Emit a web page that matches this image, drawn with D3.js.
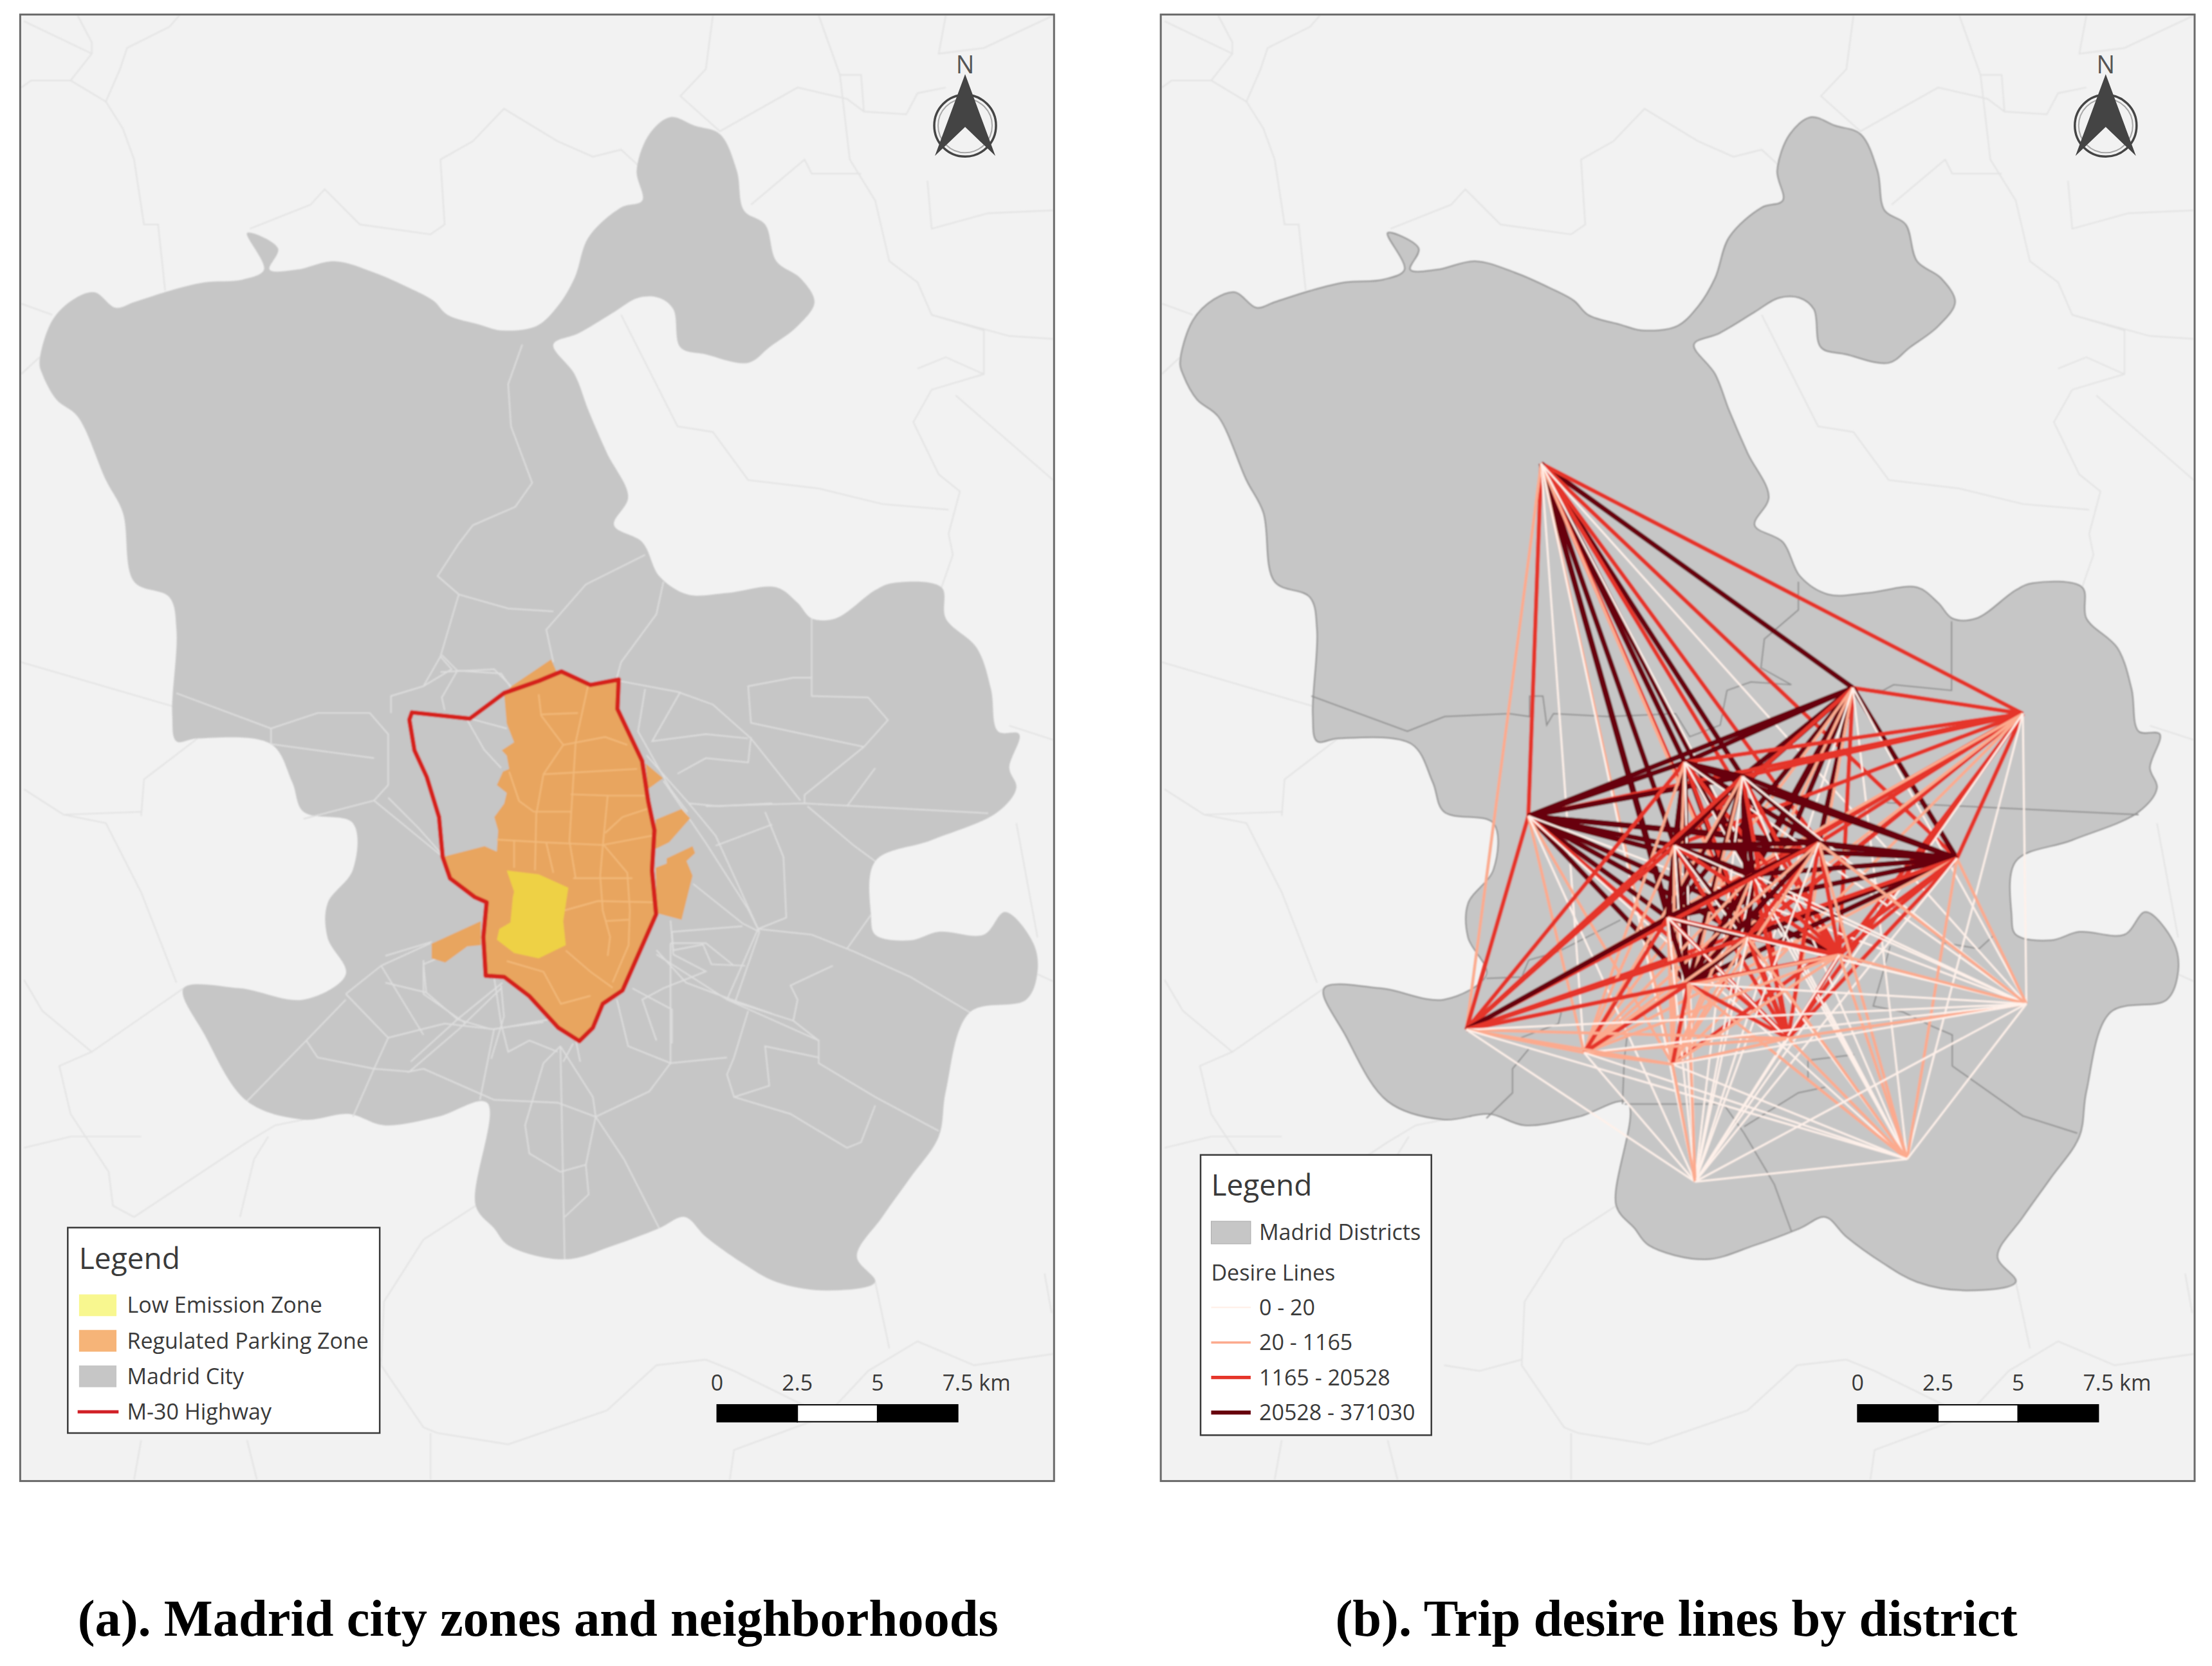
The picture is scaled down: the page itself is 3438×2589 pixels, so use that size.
<!DOCTYPE html>
<html>
<head>
<meta charset="utf-8">
<script src="https://cdn.jsdelivr.net/npm/d3@7"></script>
<style>
  body { margin: 0; background: #fff; }
  text { font-family: "Open Sans", sans-serif; fill: #3a3a3a; }
</style>
</head>
<body>
<svg id="chart"></svg>
<script>
var madridOutline = [[28,257],[37,227],[52,212],[67,207],[82,218],[95,214],[120,206],[145,200],[172,198],[187,191],[175,165],[197,176],[191,191],[210,191],[237,185],[265,193],[290,204],[307,213],[317,223],[340,230],[355,234],[380,231],[395,217],[407,197],[417,168],[440,147],[455,142],[451,121],[460,95],[475,83],[492,89],[510,95],[522,121],[527,149],[542,159],[550,185],[567,197],[577,214],[565,231],[545,246],[530,257],[500,251],[482,246],[477,219],[467,211],[452,211],[435,221],[410,236],[392,244],[407,265],[417,291],[430,321],[445,352],[435,372],[455,384],[467,408],[487,421],[515,420],[550,416],[565,427],[575,438],[592,438],[620,418],[632,413],[667,416],[670,438],[692,459],[702,488],[707,518],[722,520],[715,544],[720,558],[707,575],[660,595],[620,610],[617,648],[620,662],[645,666],[665,660],[697,662],[712,646],[732,668],[735,688],[727,708],[687,717],[670,773],[665,805],[645,834],[625,862],[607,890],[620,908],[585,914],[550,908],[525,894],[500,876],[485,862],[467,870],[435,882],[400,892],[360,882],[350,870],[337,854],[345,781],[310,791],[272,797],[247,789],[215,793],[175,780],[145,733],[130,700],[170,700],[215,708],[245,690],[232,664],[232,640],[250,616],[250,583],[215,575],[207,554],[192,527],[140,523],[125,525],[122,506],[125,446],[120,423],[95,412],[87,363],[75,340],[55,295],[40,283],[30,265]];

var m30Ring = [[291.8,504.6],[332.8,509],[357.2,490.8],[381.6,482.3],[397.7,475.6],[418.2,485.1],[438.3,481.3],[437.4,502.1],[454.9,539],[459.2,567.3],[463.6,588.1],[461.9,616.5],[464.8,647.6],[441,701.5],[427,711],[420,728],[410.4,737.4],[395.6,728],[374.7,705.3],[357.2,692],[344.1,691.1],[342.4,663.7],[344.7,639.1],[336.3,635.4],[318.8,622.1],[313.6,607],[311,578.7],[302.3,550.3],[293.6,531.4],[290,509.7]];

var parkingMain = [[362.4,486],[390.4,467.1],[394.2,475.6],[397.7,475.6],[418.2,485.1],[438.3,481.3],[437.4,502.1],[454.9,539],[459.2,567.3],[463.6,588.1],[461.9,616.5],[464.8,647.6],[441,701.5],[427,711],[420,728],[410.4,737.4],[395.6,728],[374.7,705.3],[357.2,692],[344.1,691.1],[342.4,663.7],[344.7,639.1],[336.3,635.4],[318.8,622.1],[313.6,607],[343.3,599.4],[352,603.2],[352.9,588.1],[350.2,578.7],[357.2,569.2],[359,561.6],[352,556],[356.3,546.5],[360.7,544.6],[359,535.2],[355.5,531.4],[364.2,525.7],[359,512.5],[357.2,491.7]];

var parkingLobes = [
  [[457.5,540.9],[469.7,551.2],[459.2,558.8]],
  [[464.5,580.5],[482.8,573],[488.9,579.6],[474,596.6],[464.5,601.3]],
  [[472.3,608],[490.6,599.4],[492.4,604.2],[486.3,609.8],[490.6,620.2],[482.8,651.4],[465.3,646.7],[464.5,614.6],[472.3,611.7]],
  [[305.8,668.4],[340.6,652.4],[340.6,669.4],[331,670.3],[315.4,681.7],[305.8,678.8]]
];

var emissionZone = [[359,616.5],[381.6,619.3],[402.6,628.7],[399,652.4],[400.8,669.4],[381.6,678.8],[364.2,675],[352,665.6],[353.7,658],[361.6,653.3],[363.3,635.4],[364.2,631.6]];

var neighbourhoodLines = [
  [[370,244],[360,272],[362,302],[377,342],[365,359],[335,372],[325,385],[310,408],[325,421],[360,431],[392,433]],
  [[457,393],[415,414],[387,446],[392,469]],
  [[470,412],[465,435],[440,469],[437,480]],
  [[575,438],[575,493],[615,494],[629,510],[612,529],[532,512],[530,486],[562,480],[575,480]],
  [[325,421],[312,465],[300,486],[277,493],[277,505]],
  [[125,491],[192,516],[225,505],[262,505],[275,520],[275,556]],
  [[192,516],[192,527],[265,537]],
  [[215,580],[265,567],[275,556]],
  [[300,486],[320,474],[312,465]],
  [[312,476],[350,474],[362,486]],
  [[437,482],[480,490],[505,499],[532,523],[567,567]],
  [[457,488],[452,518],[475,559],[487,575]],
  [[482,490],[462,525],[500,520],[530,523]],
  [[532,522],[530,540],[500,537],[480,548]],
  [[612,529],[570,563],[570,569]],
  [[620,544],[600,571]],
  [[500,571],[570,569],[700,576]],
  [[470,553],[500,597],[530,644],[537,658]],
  [[542,575],[555,607],[557,650],[537,658],[515,708]],
  [[572,571],[605,599],[620,610]],
  [[617,648],[600,672]],
  [[605,674],[645,692],[687,717]],
  [[537,658],[575,662],[605,674]],
  [[590,684],[560,698],[565,708],[562,723]],
  [[465,676],[515,708],[580,737],[580,753],[620,777],[665,801]],
  [[515,708],[562,723],[580,737]],
  [[530,716],[520,749],[515,761],[520,777],[545,769],[542,741],[580,749]],
  [[520,777],[560,789],[600,813],[610,809],[620,783]],
  [[475,753],[515,749]],
  [[437,708],[445,741],[475,753],[475,668]],
  [[475,668],[500,668],[520,684]],
  [[475,652],[477,676],[500,688],[470,700],[455,708],[465,737]],
  [[475,753],[460,773],[422,791],[395,781],[350,779],[300,757],[290,759],[325,729],[355,700]],
  [[422,791],[442,821],[467,870]],
  [[422,791],[415,825],[397,830],[375,817],[372,797],[385,753],[397,741]],
  [[397,741],[400,892]],
  [[415,825],[417,846],[400,862]],
  [[397,741],[420,777],[422,791]],
  [[245,708],[217,737],[175,780]],
  [[217,737],[225,749],[265,757],[290,759]],
  [[265,757],[250,791]],
  [[245,704],[275,735],[265,757]],
  [[275,735],[315,725],[350,729],[395,721]],
  [[270,684],[300,733]],
  [[300,680],[300,704],[330,725]],
  [[270,684],[305,668]],
  [[270,684],[245,704]],
  [[350,692],[355,725],[360,745],[375,737],[395,745]],
  [[350,729],[340,779]],
  [[265,567],[315,608]],
  [[458,535],[488,569],[507,592],[538,660]],
  [[488,569],[509,571],[547,569]],
  [[507,599],[547,584]],
  [[491,626],[526,654],[538,660]],
  [[476,660],[526,656]],
  [[476,660],[477,673],[498,669],[504,683],[528,684]],
  [[465,673],[486,696],[521,709],[547,718]],
  [[448,700],[476,715],[476,739]],
  [[521,709],[538,660]],
  [[275,565],[296,586],[313,605]],
  [[331,510],[343,531],[355,544]],
  [[333,509],[359,516]],
  [[313,464],[324,475],[355,477],[362,487]],
  [[324,475],[313,494],[315,503]],
  [[356,696],[324,722],[291,752]],
  [[273,677],[306,667]],
  [[300,683],[302,703],[324,722],[348,729],[385,724]],
  [[331,670],[300,683]],
  [[302,703],[273,696]],
  [[355,698],[357,720],[348,750]],
  [[406,739],[399,752]],
  [[408,737],[411,752]]
];

var parkingStreets = [
  [[416.5,486],[407.8,525.7],[403.4,595.7],[407.8,622]],
  [[381.6,491.7],[383.4,506.8],[399,527.6],[385,548.4],[379.9,576.8],[379,616.5]],
  [[383.4,506],[409.5,505]],
  [[399,527.6],[428.7,522],[444.4,527.6]],
  [[385,548.4],[451.4,544.6]],
  [[360.7,546.5],[367.7,567.3],[378.1,574.9],[404.3,574.9]],
  [[404.3,562.6],[430.5,563.5],[456.6,563.5]],
  [[430.5,563.5],[427,599.4],[425.2,620.2],[427,644.8],[432.2,663.7],[430.5,677]],
  [[352,594.7],[385,596.6],[427,598.5],[461.9,591.9]],
  [[428.7,590],[441,578.7],[458.4,573]],
  [[427,597.6],[444.4,618.3],[446.2,644.8],[445.3,669.4],[434,695.8]],
  [[406,622],[448,622]],
  [[400,644.8],[423.5,638.2],[463.6,639.1]],
  [[428.7,652.4],[445.3,651.4]],
  [[400.8,673.2],[418.3,688.3],[434,699.6]],
  [[359,680.7],[385,688.3],[397.3,711],[418.3,705.3]],
  [[364.2,595.7],[364.2,614.6]],
  [[386.9,596.6],[392,618.3]]
];

var backgroundLines = [
  [[17,15],[65,38],[50,57],[22,57],[15,62]],
  [[55,11],[65,30],[65,38]],
  [[127,11],[120,19],[90,34],[85,49],[75,72],[50,57]],
  [[75,72],[87,91],[95,113],[102,159],[112,159],[117,206]],
  [[177,162],[220,145],[230,134],[255,159],[305,166],[315,159],[312,113],[335,100],[357,77],[395,100],[420,111],[440,106],[452,117]],
  [[505,11],[500,49],[482,68],[510,93],[565,62],[600,70],[612,79],[642,81],[650,66],[670,62]],
  [[580,11],[595,53],[602,113],[620,142],[630,185],[650,200],[660,223],[697,234],[697,265],[660,276],[647,299],[665,336],[680,348],[672,378],[675,393],[667,416]],
  [[595,53],[610,53],[612,79]],
  [[670,11],[665,38],[697,34],[746,11]],
  [[657,128],[660,162],[700,151],[746,149]],
  [[532,145],[570,113],[575,123],[610,123]],
  [[440,223],[480,302],[505,306],[530,340],[580,346],[625,357],[672,361]],
  [[650,261],[670,253],[697,265]],
  [[677,280],[746,340]],
  [[660,223],[715,238],[746,240]],
  [[15,265],[28,253]],
  [[15,215],[37,223]],
  [[15,469],[125,501]],
  [[100,578],[102,552],[140,523]],
  [[17,559],[45,577],[75,583],[100,632],[125,696]],
  [[45,577],[100,575]],
  [[17,694],[30,716],[65,745],[42,755],[50,789],[77,830],[80,854],[95,862]],
  [[65,745],[130,700]],
  [[17,813],[50,805],[100,805]],
  [[95,862],[175,809],[195,797],[215,793]],
  [[190,805],[180,821],[170,862]],
  [[337,854],[300,878],[272,922],[270,967],[300,1011],[310,1015],[360,1023],[430,999],[465,967],[500,963],[520,971],[585,1003],[615,971],[650,950],[690,967],[746,959]],
  [[620,908],[630,955]],
  [[270,963],[240,971],[215,967]],
  [[305,1015],[305,1048]],
  [[100,1020],[95,1048]],
  [[175,1020],[182,1048]],
  [[585,1003],[520,1027],[517,1048]],
  [[740,902],[745,930]],
  [[720,583],[735,664]],
  [[735,690],[746,695]],
  [[715,514],[746,524]]
];

var districtLines = [
  [[121,493],[189,518],[215.4,507.5],[261,505.5],[275.6,507.5],[275.6,493],[285,493],[287.7,513.6],[292.5,505.5],[331,507.5],[379,505.5],[389,521.8],[410.6,513.6],[415.4,489],[432.3,483],[461,485],[439.5,473],[441.9,452.6],[466,432],[466,412]],
  [[574.5,440],[574.5,489],[533.5,485],[526,489],[504.6,487]],
  [[528.6,568.6],[574.5,570.6],[707,577]],
  [[663.6,802.6],[625,790.4],[575,755],[575,733],[561,727],[540,716.7],[519,712.6],[525,692],[531,670]],
  [[554,653.6],[570,668],[594,672],[605,662]],
  [[472.8,763.5],[472.8,751],[505.4,747]],
  [[341.4,782],[342.6,751],[345,731]],
  [[269.4,735],[296,725],[298,717]],
  [[275,743],[263.5,757],[263.5,774],[245,792]],
  [[340,651.6],[296,674],[275,680]],
  [[343,782],[413,782],[427.5,802.6],[442,827],[449,839],[461,872]],
  [[427.5,798],[466,774],[485,770]],
  [[245,693],[270,692],[275,680]]
];

var districtNames = ["Fuencarral","Hortaleza","Barajas","Moncloa","Tetuan","Chamartin","San Blas","Chamberi","Salamanca","Ciudad Lineal","Centro","Retiro","Moratalaz","Arganzuela","Puente de Vallecas","Vicalvaro","Latina","Carabanchel","Usera","Villa de Vallecas","Villaverde"];
var districtX = [283.8,504.6,625,274.7,385.5,426.5,578.3,378.3,433.7,480.5,373.5,430,495,388,458.8,627.5,230.8,314.2,376.8,543,392.8];
var districtY = [328.4,487.2,505.5,578,540,550,608,599,619.5,597,650,664,676.4,696.8,735.4,711,729.3,745.6,753.8,821,837];

// flow class of each pair, row i holds district i against all later districts
var desireClass = [
  "32233233232231010100",
  "2333333333231021100",
  "222222222222011100",
  "33333333332021100",
  "3333333232021100",
  "333333232021100",
  "33333232121210",
  "3333232021100",
  "333232021100",
  "32232121110",
  "3232032100",
  "232021110",
  "22111110",
  "2022211",
  "111110",
  "00000",
  "1100",
  "100",
  "01",
  "0"
];

var lineClasses = ["0 - 20","20 - 1165","1165 - 20528","20528 - 371030"];
var lineColors = ["#fff1ea","#fcaa8e","#e5352a","#67000d"];
var lineWidths = [3,4.5,6.5,8];

var zoneLabels = ["Low Emission Zone","Regulated Parking Zone","Madrid City","M-30 Highway"];
var zoneSwatches = ["#f8f78f","#f6b478","#c6c6c6",null];
var scaleTicks = [0,2.5,5,7.5];
var captions = ["(a). Madrid city zones and neighborhoods","(b). Trip desire lines by district"];

var width = 3438, height = 2589;

var x = d3.scaleLinear().domain([0,1567]).range([0,width]);
var y = d3.scaleLinear().domain([0,1180]).range([0,height]);
var panelShift = x(808);

var line = d3.line().x(d => x(d[0])).y(d => y(d[1]));
var ringPath = d => line(d) + "Z";
// the city border is long and soft in the source, so it gets a curve
var borderPath = d3.line().x(d => x(d[0])).y(d => y(d[1])).curve(d3.curveCatmullRomClosed.alpha(0.5));

var svg = d3.select("#chart").attr("width", width).attr("height", height);

// the source is an upscaled raster, so the map work gets a small blur
svg.append("filter").attr("id","soft").append("feGaussianBlur").attr("stdDeviation",0.9);

function drawBase(g, outlineStroke) {
  g.append("rect")
    .attr("x", x(14.3)).attr("y", y(10.3))
    .attr("width", x(732.4)).attr("height", y(1038.7))
    .attr("fill","#f2f2f2");

  var map = g.append("g").attr("filter","url(#soft)");

  map.selectAll(".bg").data(backgroundLines).enter().append("path")
    .attr("d", line).attr("fill","none").attr("stroke","#e3e3e3").attr("stroke-width",2.2);

  map.append("path").attr("d", borderPath(madridOutline))
    .attr("fill","#c6c6c6")
    .attr("stroke", outlineStroke || "none").attr("stroke-width",2);

  g.append("rect")
    .attr("x", x(14.3)).attr("y", y(10.3))
    .attr("width", x(732.4)).attr("height", y(1038.7))
    .attr("fill","none").attr("stroke","#6a6a6a").attr("stroke-width",3);

  return map;
}

function drawNorth(g) {
  var cx = x(683.7), cy = y(89);
  var n = g.append("g").attr("transform","translate(" + cx + "," + cy + ")");
  n.append("circle").attr("r",48).attr("fill","none").attr("stroke","#454545").attr("stroke-width",3.5);
  n.append("circle").attr("r",42).attr("fill","none").attr("stroke","#a8a8a8").attr("stroke-width",2);
  n.append("path").attr("d","M0,-80L47,47L0,2L-47,47Z").attr("fill","#444");
  n.append("text").attr("y",-81).attr("text-anchor","middle").attr("font-size",38).text("N").style("fill","#555");
}

function drawScale(g) {
  var km = d3.scaleLinear().domain([0,7.5]).range([x(508),x(678.5)]);
  var bar = d3.pairs(scaleTicks);
  g.selectAll(".seg").data(bar).enter().append("rect")
    .attr("x", d => km(d[0])).attr("y", y(995))
    .attr("width", d => km(d[1]) - km(d[0])).attr("height", y(12))
    .attr("fill", (d,i) => i == 1 ? "#fff" : "#000")
    .attr("stroke","#000").attr("stroke-width",2);
  g.selectAll(".tick").data(scaleTicks).enter().append("text")
    .attr("x", d => km(d) - (d == 7.5 ? 24 : 0))
    .attr("y", y(985))
    .attr("text-anchor", d => d == 7.5 ? "start" : "middle")
    .attr("font-size",34)
    .text(d => d == 7.5 ? "7.5 km" : d);
}

function legendBox(g, x0, y0, w, h) {
  g.append("rect")
    .attr("x", x(x0)).attr("y", y(y0)).attr("width", x(w)).attr("height", y(h))
    .attr("fill","#fff").attr("stroke","#3a3a3a").attr("stroke-width",2.5);
}

// panel a
var panelA = svg.append("g");
var mapA = drawBase(panelA);

mapA.selectAll(".hood").data(neighbourhoodLines).enter().append("path")
  .attr("d", line).attr("fill","none").attr("stroke","#dedede").attr("stroke-width",2.2);

mapA.append("path").attr("d", ringPath(parkingMain)).attr("fill","#e8a55f");
mapA.selectAll(".lobe").data(parkingLobes).enter().append("path")
  .attr("d", ringPath).attr("fill","#e8a55f");
mapA.selectAll(".street").data(parkingStreets).enter().append("path")
  .attr("d", line).attr("fill","none").attr("stroke","#f2b97a").attr("stroke-width",2.4);
mapA.append("path").attr("d", ringPath(emissionZone)).attr("fill","#eed144");
mapA.append("path").attr("d", ringPath(m30Ring))
  .attr("fill","none").attr("stroke","#d5211f").attr("stroke-width",7).attr("stroke-linejoin","round");

drawNorth(panelA);
drawScale(panelA);
legendBox(panelA, 48, 869.5, 221, 145.5);
panelA.append("text").attr("x", x(56)).attr("y", y(899)).attr("font-size",46).text("Legend");

var rowsA = d3.scaleLinear().domain([0,3]).range([924.5,1000]);
zoneLabels.forEach(function (label, i) {
  if (zoneSwatches[i]) {
    panelA.append("rect")
      .attr("x", x(56)).attr("y", y(rowsA(i) - 7.7))
      .attr("width", x(26.5)).attr("height", y(15.4))
      .attr("fill", zoneSwatches[i]);
  } else {
    panelA.append("line")
      .attr("x1", x(55)).attr("x2", x(84))
      .attr("y1", y(rowsA(i))).attr("y2", y(rowsA(i)))
      .attr("stroke","#d11f26").attr("stroke-width",5);
  }
  panelA.append("text")
    .attr("x", x(90)).attr("y", y(rowsA(i)) + 12)
    .attr("font-size",34).text(label);
});

// panel b
var panelB = svg.append("g").attr("transform","translate(" + panelShift + ",0)");
var mapB = drawBase(panelB, "#8e8e8e");

mapB.selectAll(".district").data(districtLines).enter().append("path")
  .attr("d", line).attr("fill","none").attr("stroke","#8e8e8e").attr("stroke-width",2);

var desire = [];
desireClass.forEach(function (row, i) {
  row.split("").forEach(function (c, k) {
    desire.push({ a: i, b: i + 1 + k, cls: +c });
  });
});

mapB.selectAll(".desire").data(desire).enter().append("line")
  .attr("x1", d => x(districtX[d.a])).attr("y1", d => y(districtY[d.a]))
  .attr("x2", d => x(districtX[d.b])).attr("y2", d => y(districtY[d.b]))
  .attr("stroke", d => lineColors[d.cls])
  .attr("stroke-width", d => lineWidths[d.cls]);

drawNorth(panelB);
drawScale(panelB);
legendBox(panelB, 42.5, 818, 163.5, 198.5);
panelB.append("text").attr("x", x(50)).attr("y", y(847)).attr("font-size",46).text("Legend");
panelB.append("rect")
  .attr("x", x(50)).attr("y", y(865)).attr("width", x(28)).attr("height", y(16))
  .attr("fill","#c6c6c6").attr("stroke","#aaa").attr("stroke-width",1);
panelB.append("text").attr("x", x(84)).attr("y", y(873) + 12).attr("font-size",34).text("Madrid Districts");
panelB.append("text").attr("x", x(50)).attr("y", y(901.6) + 12).attr("font-size",34).text("Desire Lines");

var rowsB = d3.scaleLinear().domain([0,3]).range([926,1000.5]);
lineClasses.forEach(function (label, i) {
  panelB.append("line")
    .attr("x1", x(50)).attr("x2", x(78))
    .attr("y1", y(rowsB(i))).attr("y2", y(rowsB(i)))
    .attr("stroke", lineColors[i]).attr("stroke-width", lineWidths[i] * 0.8);
  panelB.append("text")
    .attr("x", x(84)).attr("y", y(rowsB(i)) + 12)
    .attr("font-size",34).text(label);
});

// captions
svg.selectAll(".caption").data(captions).enter().append("text")
  .attr("x", (d,i) => i == 0 ? x(55) : x(946))
  .attr("y", 2542)
  .attr("font-size",80.5)
  .style("font-family","'Liberation Serif', serif")
  .style("font-weight","bold")
  .style("fill","#000")
  .text(d => d);
</script>
</body>
</html>
